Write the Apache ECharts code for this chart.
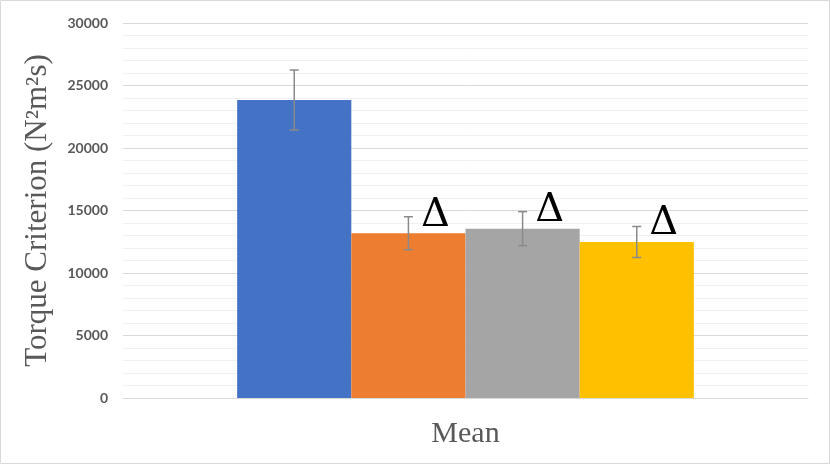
<!DOCTYPE html>
<html><head><meta charset="utf-8">
<script src="https://cdn.jsdelivr.net/npm/echarts@6/dist/echarts.min.js"></script>
<style>html,body{margin:0;padding:0;background:#fff}#c{width:830px;height:464px}</style>
</head><body><div id="c"></div>
<script>
const categories = ['Mean'];
const seriesNames = ['G1', 'G2', 'G3', 'G4'];
const means = [23840, 13180, 13550, 12480];
const errors = [2400, 1320, 1360, 1240];
const markers = ['', 'Δ', 'Δ', 'Δ'];
const colors = ['#4472C4', '#ED7D31', '#A5A5A5', '#FFC000'];
const yTicks = { min: 0, max: 30000, interval: 5000 };

const chart = echarts.init(document.getElementById('c'));
const gapFrac = 0.3333;
const n = means.length;

const barSeries = means.map((v, i) => ({
  type: 'bar',
  name: seriesNames[i],
  data: [v],
  barGap: '0%',
  barCategoryGap: '33.33%',
  itemStyle: { color: colors[i] },
  label: {
    show: markers[i] !== '',
    position: 'top',
    formatter: () => markers[i],
    fontFamily: 'DejaVu Serif',
    fontSize: 40,
    color: '#000',
    offset: [27, 7]
  },
  z: 2
}));

const errData = means.map((v, i) => [0, i, v - errors[i], v + errors[i]]);

const errSeries = {
  type: 'custom',
  data: errData,
  z: 5,
  renderItem: (params, api) => {
    const cat = api.value(0), idx = api.value(1);
    const band = api.size([1, 0])[0];
    const barW = band * (1 - gapFrac) / n;
    const center = api.coord([cat, 0])[0];
    const x = center - band * (1 - gapFrac) / 2 + (idx + 0.5) * barW;
    const yLo = api.coord([cat, api.value(2)])[1];
    const yHi = api.coord([cat, api.value(3)])[1];
    const cap = 4.5;
    const st = { stroke: '#8a8a8a', lineWidth: 1.5 };
    return { type: 'group', children: [
      { type: 'line', shape: { x1: x, y1: yLo, x2: x, y2: yHi }, style: st },
      { type: 'line', shape: { x1: x - cap, y1: yLo, x2: x + cap, y2: yLo }, style: st },
      { type: 'line', shape: { x1: x - cap, y1: yHi, x2: x + cap, y2: yHi }, style: st }
    ]};
  }
};

chart.setOption({
  animation: false,
  backgroundColor: '#fff',
  grid: { left: 123, right: 22, top: 23, bottom: 66 },
  graphic: [{ type: 'rect', shape: { x: 0.5, y: 0.5, width: 829, height: 463 },
    style: { fill: 'none', stroke: '#d9d9d9', lineWidth: 1 }, silent: true }],
  xAxis: {
    type: 'category',
    data: categories,
    axisLine: { lineStyle: { color: '#d9d9d9', width: 1 } },
    axisTick: { show: false },
    axisLabel: { fontFamily: 'Liberation Serif', fontSize: 30, color: '#595959', margin: 21 }
  },
  yAxis: {
    type: 'value',
    min: yTicks.min, max: yTicks.max, interval: yTicks.interval,
    name: 'Torque Criterion (N²m²s)',
    nameLocation: 'middle',
    nameGap: 70,
    nameTextStyle: { fontFamily: 'Liberation Serif', fontSize: 31, color: '#595959' },
    axisLine: { show: false },
    axisTick: { show: false },
    axisLabel: { fontFamily: 'Lato', fontWeight: 'bold', fontSize: 14, color: '#595959', margin: 15,
      formatter: v => String(v) },
    splitLine: { lineStyle: { color: '#d9d9d9', width: 1 } },
    minorTick: { show: false, splitNumber: 5 },
    minorSplitLine: { show: true, lineStyle: { color: '#f0f0f0', width: 1 } }
  },
  series: [...barSeries, errSeries]
});
</script></body></html>
